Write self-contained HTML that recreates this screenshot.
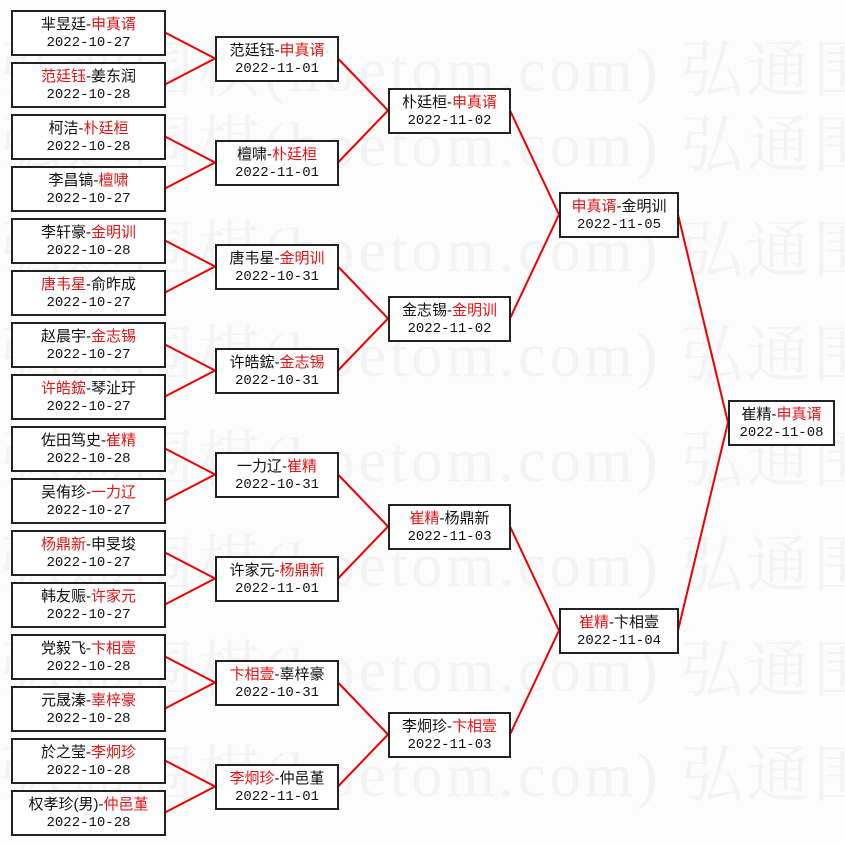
<!DOCTYPE html>
<html><head><meta charset="utf-8"><style>
body{margin:0;width:845px;height:845px;background:#fcfcfc;position:relative;overflow:hidden;font-family:"Liberation Sans","Noto Sans CJK SC",sans-serif;}
.wm{position:absolute;left:0;font-family:"Liberation Serif","Noto Serif CJK SC",serif;font-size:62px;color:#f3f3f3;white-space:nowrap;letter-spacing:4px}
.b{position:absolute;box-sizing:border-box;height:46px;border:2px solid #222;background:#fff;text-align:center;color:#111;padding-top:3px}
.n{font-size:15px;line-height:19px;white-space:nowrap;font-family:"Liberation Sans","Noto Sans CJK SC",sans-serif}
.d{font-family:"Liberation Mono",monospace;font-size:14px;line-height:19px}
.r{color:#e41414}
svg{position:absolute;left:0;top:0}
</style></head><body>
<div class="wm" style="top:20px">弘通围棋(hoetom.com) 弘通围</div>
<div class="wm" style="top:95px">弘通围棋(hoetom.com) 弘通围</div>
<div class="wm" style="top:200px">弘通围棋(hoetom.com) 弘通围</div>
<div class="wm" style="top:305px">弘通围棋(hoetom.com) 弘通围</div>
<div class="wm" style="top:410px">弘通围棋(hoetom.com) 弘通围</div>
<div class="wm" style="top:515px">弘通围棋(hoetom.com) 弘通围</div>
<div class="wm" style="top:620px">弘通围棋(hoetom.com) 弘通围</div>
<div class="wm" style="top:725px">弘通围棋(hoetom.com) 弘通围</div>
<svg width="845" height="845">
<g stroke="#e00" stroke-width="2" fill="none">
<polyline points="165,32.5 215,58.5 165,84.5"/>
<polyline points="165,136.5 215,162.5 165,188.5"/>
<polyline points="165,240.5 215,266.5 165,292.5"/>
<polyline points="165,344.5 215,370.5 165,396.5"/>
<polyline points="165,448.5 215,474.5 165,500.5"/>
<polyline points="165,552.5 215,578.5 165,604.5"/>
<polyline points="165,656.5 215,682.5 165,708.5"/>
<polyline points="165,760.5 215,786.5 165,812.5"/>
<polyline points="338,58.5 388,110.5 338,162.5"/>
<polyline points="338,266.5 388,318.5 338,370.5"/>
<polyline points="338,474.5 388,526.5 338,578.5"/>
<polyline points="338,682.5 388,734.5 338,786.5"/>
<polyline points="510,110.5 559,214.5 510,318.5"/>
<polyline points="510,526.5 559,630.5 510,734.5"/>
<polyline points="678,214.5 728,422.5 678,630.5"/>
</g></svg>
<div class="b" style="left:11px;top:10px;width:155px"><div class="n">芈昱廷-<span class="r">申真谞</span></div><div class="d">2022-10-27</div></div>
<div class="b" style="left:11px;top:62px;width:155px"><div class="n"><span class="r">范廷钰</span>-姜东润</div><div class="d">2022-10-28</div></div>
<div class="b" style="left:11px;top:114px;width:155px"><div class="n">柯洁-<span class="r">朴廷桓</span></div><div class="d">2022-10-28</div></div>
<div class="b" style="left:11px;top:166px;width:155px"><div class="n">李昌镐-<span class="r">檀啸</span></div><div class="d">2022-10-27</div></div>
<div class="b" style="left:11px;top:218px;width:155px"><div class="n">李轩豪-<span class="r">金明训</span></div><div class="d">2022-10-28</div></div>
<div class="b" style="left:11px;top:270px;width:155px"><div class="n"><span class="r">唐韦星</span>-俞昨成</div><div class="d">2022-10-27</div></div>
<div class="b" style="left:11px;top:322px;width:155px"><div class="n">赵晨宇-<span class="r">金志锡</span></div><div class="d">2022-10-27</div></div>
<div class="b" style="left:11px;top:374px;width:155px"><div class="n"><span class="r">许皓鋐</span>-琴沚玗</div><div class="d">2022-10-27</div></div>
<div class="b" style="left:11px;top:426px;width:155px"><div class="n">佐田笃史-<span class="r">崔精</span></div><div class="d">2022-10-28</div></div>
<div class="b" style="left:11px;top:478px;width:155px"><div class="n">吴侑珍-<span class="r">一力辽</span></div><div class="d">2022-10-27</div></div>
<div class="b" style="left:11px;top:530px;width:155px"><div class="n"><span class="r">杨鼎新</span>-申旻埈</div><div class="d">2022-10-27</div></div>
<div class="b" style="left:11px;top:582px;width:155px"><div class="n">韩友赈-<span class="r">许家元</span></div><div class="d">2022-10-27</div></div>
<div class="b" style="left:11px;top:634px;width:155px"><div class="n">党毅飞-<span class="r">卞相壹</span></div><div class="d">2022-10-28</div></div>
<div class="b" style="left:11px;top:686px;width:155px"><div class="n">元晟溱-<span class="r">辜梓豪</span></div><div class="d">2022-10-28</div></div>
<div class="b" style="left:11px;top:738px;width:155px"><div class="n">於之莹-<span class="r">李炯珍</span></div><div class="d">2022-10-28</div></div>
<div class="b" style="left:11px;top:790px;width:155px"><div class="n">权孝珍(男)-<span class="r">仲邑堇</span></div><div class="d">2022-10-28</div></div>
<div class="b" style="left:215px;top:36px;width:124px"><div class="n">范廷钰-<span class="r">申真谞</span></div><div class="d">2022-11-01</div></div>
<div class="b" style="left:215px;top:140px;width:124px"><div class="n">檀啸-<span class="r">朴廷桓</span></div><div class="d">2022-11-01</div></div>
<div class="b" style="left:215px;top:244px;width:124px"><div class="n">唐韦星-<span class="r">金明训</span></div><div class="d">2022-10-31</div></div>
<div class="b" style="left:215px;top:348px;width:124px"><div class="n">许皓鋐-<span class="r">金志锡</span></div><div class="d">2022-10-31</div></div>
<div class="b" style="left:215px;top:452px;width:124px"><div class="n">一力辽-<span class="r">崔精</span></div><div class="d">2022-10-31</div></div>
<div class="b" style="left:215px;top:556px;width:124px"><div class="n">许家元-<span class="r">杨鼎新</span></div><div class="d">2022-11-01</div></div>
<div class="b" style="left:215px;top:660px;width:124px"><div class="n"><span class="r">卞相壹</span>-辜梓豪</div><div class="d">2022-10-31</div></div>
<div class="b" style="left:215px;top:764px;width:124px"><div class="n"><span class="r">李炯珍</span>-仲邑堇</div><div class="d">2022-11-01</div></div>
<div class="b" style="left:388px;top:88px;width:123px"><div class="n">朴廷桓-<span class="r">申真谞</span></div><div class="d">2022-11-02</div></div>
<div class="b" style="left:388px;top:296px;width:123px"><div class="n">金志锡-<span class="r">金明训</span></div><div class="d">2022-11-02</div></div>
<div class="b" style="left:388px;top:504px;width:123px"><div class="n"><span class="r">崔精</span>-杨鼎新</div><div class="d">2022-11-03</div></div>
<div class="b" style="left:388px;top:712px;width:123px"><div class="n">李炯珍-<span class="r">卞相壹</span></div><div class="d">2022-11-03</div></div>
<div class="b" style="left:559px;top:192px;width:120px"><div class="n"><span class="r">申真谞</span>-金明训</div><div class="d">2022-11-05</div></div>
<div class="b" style="left:559px;top:608px;width:120px"><div class="n"><span class="r">崔精</span>-卞相壹</div><div class="d">2022-11-04</div></div>
<div class="b" style="left:728px;top:400px;width:107px"><div class="n">崔精-<span class="r">申真谞</span></div><div class="d">2022-11-08</div></div>
</body></html>
